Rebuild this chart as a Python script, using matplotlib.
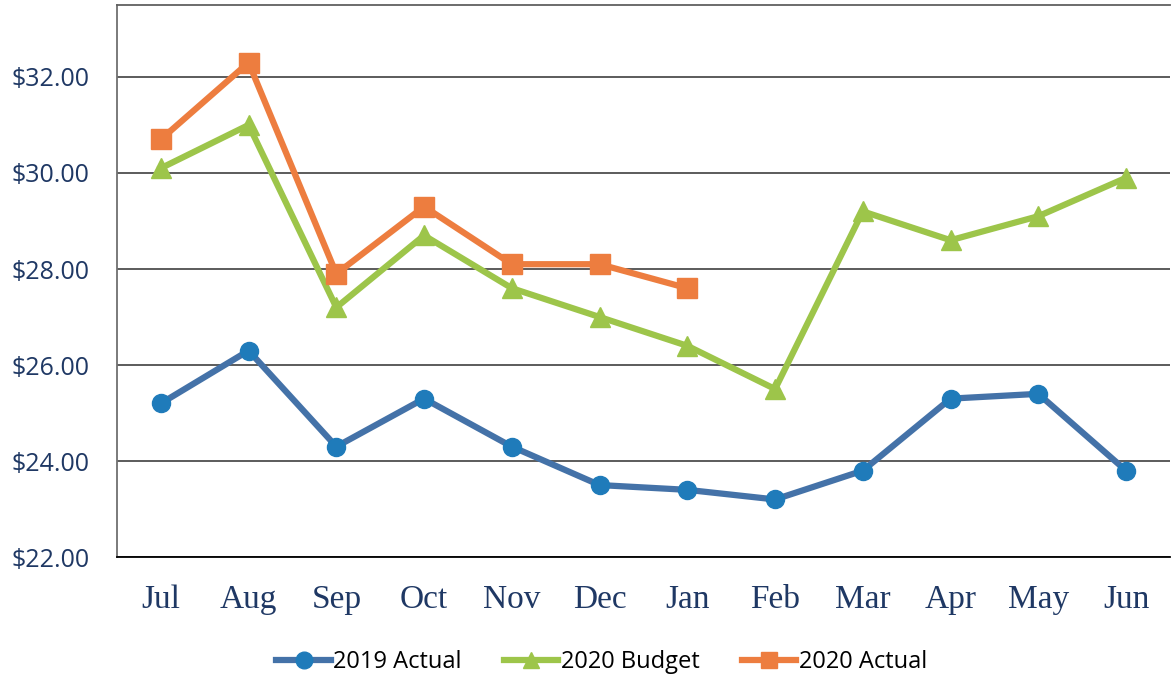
import matplotlib.pyplot as plt
from matplotlib.ticker import FuncFormatter

months = ['Jul', 'Aug', 'Sep', 'Oct', 'Nov', 'Dec', 'Jan', 'Feb', 'Mar', 'Apr', 'May', 'Jun']
actual_2019 = [25.2, 26.3, 24.3, 25.3, 24.3, 23.5, 23.4, 23.2, 23.8, 25.3, 25.4, 23.8]
budget_2020 = [30.1, 31.0, 27.2, 28.7, 27.6, 27.0, 26.4, 25.5, 29.2, 28.6, 29.1, 29.9]
actual_2020 = [30.7, 32.3, 27.9, 29.3, 28.1, 28.1, 27.6]
yticks = [22, 24, 26, 28, 30, 32]

fig = plt.figure(figsize=(11.73, 6.81), dpi=100)
ax = fig.add_axes([0.0997, 0.182, 0.8977, 0.8107])

x = list(range(len(months)))
ax.plot(x, actual_2019, color='#4472A8', lw=4.5, marker='o', ms=13,
        mfc='#1F7BBA', mec='#1F7BBA', label='2019 Actual', zorder=3)
ax.plot(x, budget_2020, color='#9DC54A', lw=4.5, marker='^', ms=15,
        mfc='#9DC54A', mec='#9DC54A', label='2020 Budget', zorder=3)
ax.plot(x[:len(actual_2020)], actual_2020, color='#ED7D3F', lw=4.5, marker='s', ms=14,
        mfc='#ED7D3F', mec='#ED7D3F', label='2020 Actual', zorder=4)

ax.set_xlim(-0.5, 11.5)
ax.set_ylim(22, 33.5)
ax.set_yticks(yticks)
ax.yaxis.set_major_formatter(FuncFormatter(lambda v, p: '${:.2f}'.format(v)))
ax.set_xticks(x)
ax.set_xticklabels(months, family='Liberation Serif', fontsize=24, color='#1F3864')
for lab in ax.get_yticklabels():
    lab.set_family('Open Sans')
    lab.set_fontsize(18)
    lab.set_color('#1F3864')
ax.tick_params(length=0)
ax.tick_params(axis='x', pad=20)
ax.tick_params(axis='y', pad=20)

ax.grid(axis='y', color='#404040', lw=1.2)
ax.set_axisbelow(True)
ax.spines['right'].set_visible(False)
ax.spines['top'].set_color('#606060')
ax.spines['left'].set_color('#707070')
ax.spines['bottom'].set_color('#000000')
for s in ['top', 'left', 'bottom']:
    ax.spines[s].set_linewidth(1.3)

leg = fig.legend(loc='center', bbox_to_anchor=(0.513, 0.028), ncol=3, frameon=False,
                 prop={'family': 'Open Sans', 'size': 17}, handlelength=2.3,
                 handletextpad=0.1, columnspacing=1.8)
for h in leg.legend_handles:
    h.set_markersize(12)

fig.savefig('out.png', dpi=100)
